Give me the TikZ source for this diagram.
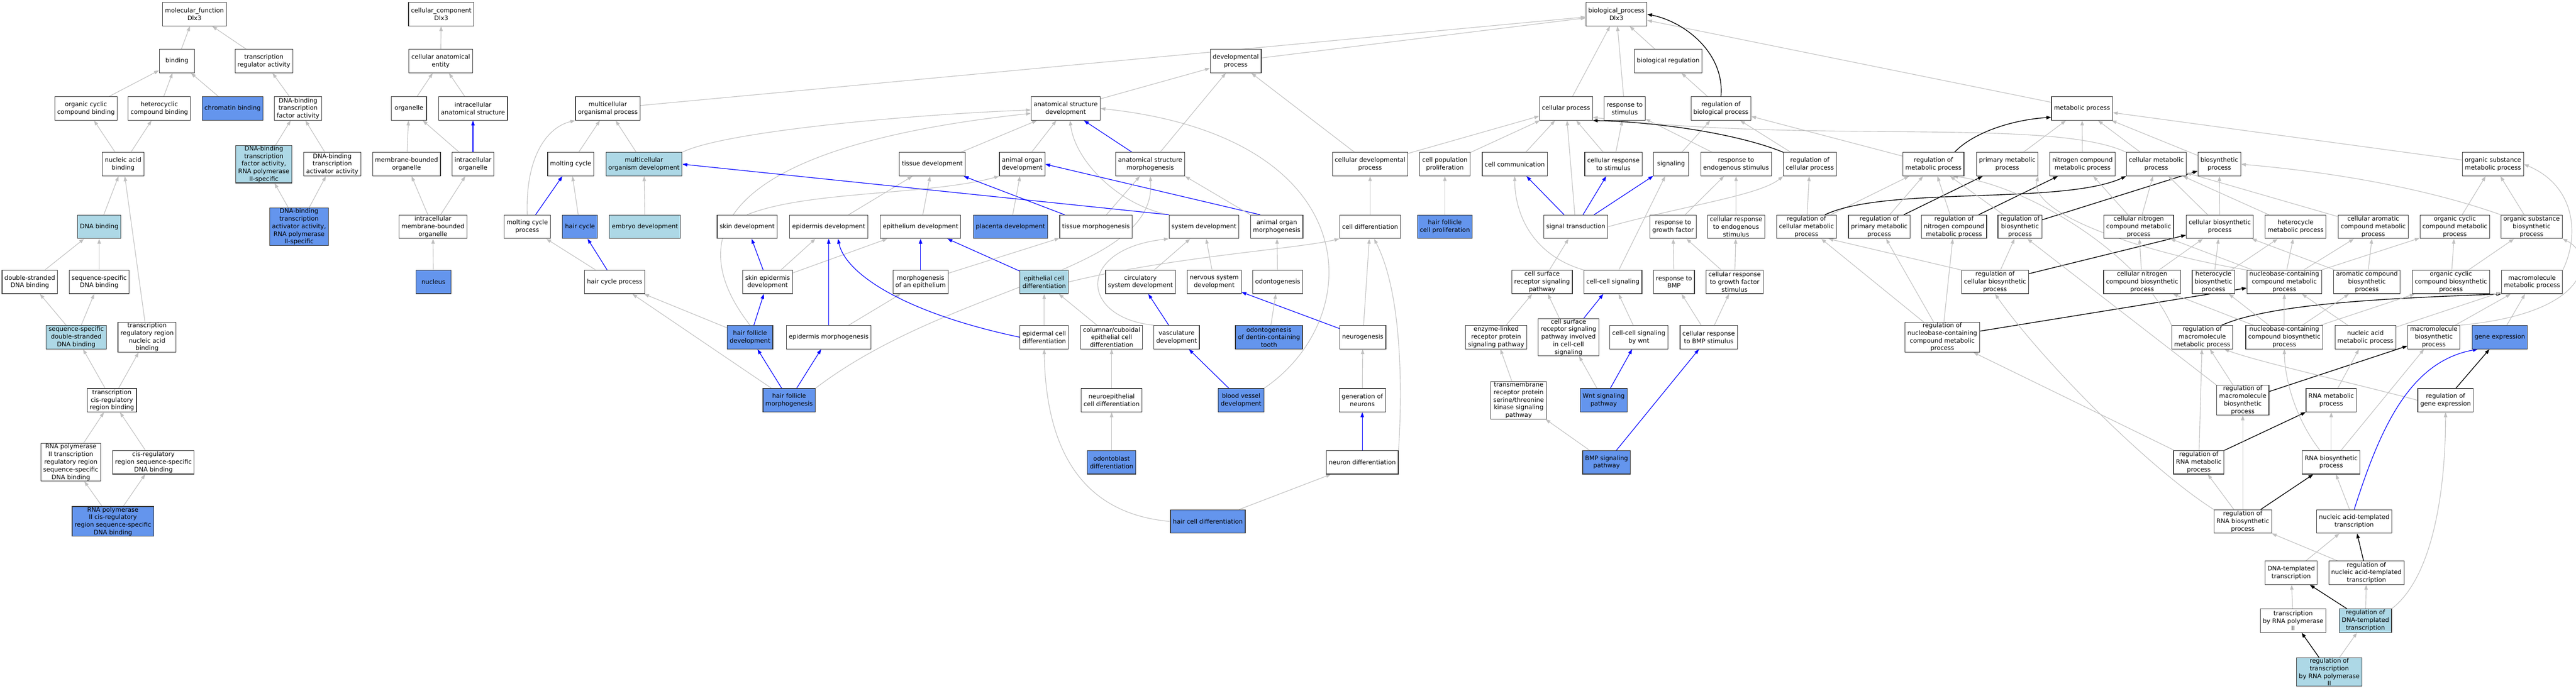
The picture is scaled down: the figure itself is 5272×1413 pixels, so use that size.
\documentclass[tikz,border=0pt]{standalone}
\usepackage{fontspec}
\setmainfont{DejaVu Sans}
\usetikzlibrary{arrows.meta,backgrounds}
\definecolor{lightblue}{HTML}{ADD8E6}
\definecolor{cornflower}{HTML}{6495ED}
\definecolor{edgegray}{HTML}{C0C0C0}
\definecolor{frame}{HTML}{383838}

\begin{document}
\begin{tikzpicture}[
	x=1pt, y=-1pt
	,>={Triangle[length=10pt,width=7pt]}
	,every node/.append style={rectangle, draw=frame, line width=1.2pt, fill=white, align=center, font=\fontsize{12.6}{15.6}\selectfont, minimum width=72pt, minimum height=48pt, inner xsep=5pt, inner ysep=1pt}
	,lb/.style={fill=lightblue}
	,cb/.style={fill=cornflower}
	,isa/.style={->, draw=edgegray, line width=1.2pt}
	,prt/.style={->, draw=blue, line width=1.3pt}
	,rgl/.style={->, draw=black, line width=1.5pt}
]
\useasboundingbox (0,0) rectangle (5272,1413);

\node (MF) at (398,29) {molecular\_function\\Dlx3};
\node (BIND) at (362,125) {binding};
\node (TRA) at (540,125) {transcription\\regulator activity};
\node (OCCB) at (176,222) {organic cyclic\\compound binding};
\node (HCB) at (326,222) {heterocyclic\\compound binding};
\node[cb] (CHB) at (476,222) {chromatin binding};
\node (DTF) at (610,222) {DNA-binding\\transcription\\factor activity};
\node (NAB) at (252,336) {nucleic acid\\binding};
\node[lb] (DTF2) at (540,336) {DNA-binding\\transcription\\factor activity,\\RNA polymerase\\II-specific};
\node (DTA) at (680,336) {DNA-binding\\transcription\\activator activity};
\node[lb] (DNAB) at (203,464) {DNA binding};
\node[cb] (DTA2) at (612,464) {DNA-binding\\transcription\\activator activity,\\RNA polymerase\\II-specific};
\node (DSB) at (61,577) {double-stranded\\DNA binding};
\node (SSB) at (203,577) {sequence-specific\\DNA binding};
\node[lb] (SSDS) at (156,690) {sequence-specific\\double-stranded\\DNA binding};
\node (TRR) at (301,690) {transcription\\regulatory region\\nucleic acid\\binding};
\node (TCR) at (229,819) {transcription\\cis-regulatory\\region binding};
\node (RPTR) at (145,946) {RNA polymerase\\II transcription\\regulatory region\\sequence-specific\\DNA binding};
\node (CRS) at (314,946) {cis-regulatory\\region sequence-specific\\DNA binding};
\node[cb] (RPCR) at (231,1067) {RNA polymerase\\II cis-regulatory\\region sequence-specific\\DNA binding};

\node (CC) at (903,29) {cellular\_component\\Dlx3};
\node (CAE) at (902,125) {cellular anatomical\\entity};
\node (ORG) at (837,222) {organelle};
\node (IAS) at (968,222) {intracellular\\anatomical structure};
\node (MBO) at (832,336) {membrane-bounded\\organelle};
\node (IO) at (968,336) {intracellular\\organelle};
\node (IMBO) at (886,464) {intracellular\\membrane-bounded\\organelle};
\node[cb] (NUC) at (887,577) {nucleus};

\node (BP) at (3308,29) {biological\_process\\Dlx3};
\node (DEV) at (2529,125) {developmental\\process};
\node (BREG) at (3414,125) {biological regulation};

\node (MOP) at (1244,222) {multicellular\\organismal process};
\node (ASD) at (2181,222) {anatomical structure\\development};
\node (CP) at (3205,222) {cellular process};
\node (RS) at (3325,222) {response to\\stimulus};
\node (RBP) at (3522,222) {regulation of\\biological process};
\node (MET) at (4261,222) {metabolic process};

\node (MC) at (1168,336) {molting cycle};
\node[lb] (MOD) at (1318,336) {multicellular\\organism development};
\node (TD) at (1908,336) {tissue development};
\node (AOD) at (2092,336) {animal organ\\development};
\node (ASM) at (2354,336) {anatomical structure\\morphogenesis};
\node (CDP) at (2804,336) {cellular developmental\\process};
\node (CPP) at (2957,336) {cell population\\proliferation};
\node (CCOM) at (3100,336) {cell communication};
\node (CRST) at (3302,336) {cellular response\\to stimulus};
\node (SIG) at (3420,336) {signaling};
\node (RES) at (3553,336) {response to\\endogenous stimulus};
\node (RCP) at (3704,336) {regulation of\\cellular process};
\node (RMP) at (3957,336) {regulation of\\metabolic process};
\node (PMP) at (4108,336) {primary metabolic\\process};
\node (NCMP) at (4262,336) {nitrogen compound\\metabolic process};
\node (CMP) at (4413,336) {cellular metabolic\\process};
\node (BSP) at (4542,336) {biosynthetic\\process};
\node (OSMP) at (5102,336) {organic substance\\metabolic process};

\node (MCPR) at (1079,464) {molting cycle\\process};
\node[cb] (HC) at (1187,464) {hair cycle};
\node[lb] (ED) at (1320,464) {embryo development};
\node (SD) at (1529,464) {skin development};
\node (EPD) at (1696,464) {epidermis development};
\node (ETHD) at (1884,464) {epithelium development};
\node[cb] (PD) at (2068,464) {placenta development};
\node (TM) at (2243,464) {tissue morphogenesis};
\node (SYSD) at (2464,464) {system development};
\node (AOM) at (2613,464) {animal organ\\morphogenesis};
\node (CD) at (2804,464) {cell differentiation};
\node[cb] (HFCP) at (2957,464) {hair follicle\\cell proliferation};
\node (ST) at (3225,464) {signal transduction};
\node (RGF) at (3424,464) {response to\\growth factor};
\node (CRES) at (3553,464) {cellular response\\to endogenous\\stimulus};
\node (RCMP) at (3697,464) {regulation of\\cellular metabolic\\process};
\node (RPMP) at (3846,464) {regulation of\\primary metabolic\\process};
\node (RNCMP) at (3999,464) {regulation of\\nitrogen compound\\metabolic process};
\node (RBSP) at (4134,464) {regulation of\\biosynthetic\\process};
\node (CNCMP) at (4377,464) {cellular nitrogen\\compound metabolic\\process};
\node (CBP) at (4543,464) {cellular biosynthetic\\process};
\node (HMP) at (4698,464) {heterocycle\\metabolic process};
\node (CAMP) at (4857,464) {cellular aromatic\\compound metabolic\\process};
\node (OCCMP) at (5024,464) {organic cyclic\\compound metabolic\\process};
\node (OSBP) at (5181,464) {organic substance\\biosynthetic\\process};

\node (HCP) at (1258,577) {hair cycle process};
\node (SED) at (1571,577) {skin epidermis\\development};
\node (MOE) at (1884,577) {morphogenesis\\of an epithelium};
\node[lb] (ECD) at (2137,577) {epithelial cell\\differentiation};
\node (CSD) at (2334,577) {circulatory\\system development};
\node (NSD) at (2485,577) {nervous system\\development};
\node (ODG) at (2615,577) {odontogenesis};
\node (CSRS) at (3156,577) {cell surface\\receptor signaling\\pathway};
\node (CCS) at (3301,577) {cell-cell signaling};
\node (RBMP) at (3426,577) {response to\\BMP};
\node (CRGF) at (3550,577) {cellular response\\to growth factor\\stimulus};
\node (RCBP) at (4083,577) {regulation of\\cellular biosynthetic\\process};
\node (CNCBP) at (4384,577) {cellular nitrogen\\compound biosynthetic\\process};
\node (HBP) at (4530,577) {heterocycle\\biosynthetic\\process};
\node (NBMP) at (4675,577) {nucleobase-containing\\compound metabolic\\process};
\node (ACBP) at (4844,577) {aromatic compound\\biosynthetic\\process};
\node (OCCBP) at (5016,577) {organic cyclic\\compound biosynthetic\\process};
\node (MMP) at (5182,577) {macromolecule\\metabolic process};

\node[cb] (HFD) at (1535,690) {hair follicle\\development};
\node (EPM) at (1696,690) {epidermis morphogenesis};
\node (EPCD) at (2137,690) {epidermal cell\\differentiation};
\node (CCD) at (2275,690) {columnar/cuboidal\\epithelial cell\\differentiation};
\node (VD) at (2408,690) {vasculature\\development};
\node[cb] (ODT) at (2597,690) {odontogenesis\\of dentin-containing\\tooth};
\node (NG) at (2789,690) {neurogenesis};
\node (ELR) at (3062,690) {enzyme-linked\\receptor protein\\signaling pathway};
\node (CSRC) at (3210,690) {cell surface\\receptor signaling\\pathway involved\\in cell-cell\\signaling};
\node (CCW) at (3354,690) {cell-cell signaling\\by wnt};
\node (CRBMP) at (3497,690) {cellular response\\to BMP stimulus};
\node (RNBMP) at (3975,690) {regulation of\\nucleobase-containing\\compound metabolic\\process};
\node (RMMP) at (4507,690) {regulation of\\macromolecule\\metabolic process};
\node (NBBP) at (4675,690) {nucleobase-containing\\compound biosynthetic\\process};
\node (NAMP) at (4841,690) {nucleic acid\\metabolic process};
\node (MBP) at (4981,690) {macromolecule\\biosynthetic\\process};
\node[cb] (GE) at (5116,690) {gene expression};

\node[cb] (HFM) at (1615,819) {hair follicle\\morphogenesis};
\node (NEC) at (2275,819) {neuroepithelial\\cell differentiation};
\node[cb] (BVD) at (2540,819) {blood vessel\\development};
\node (GON) at (2788,819) {generation of\\neurons};
\node (TMR) at (3108,819) {transmembrane\\receptor protein\\serine/threonine\\kinase signaling\\pathway};
\node[cb] (WNT) at (3282,819) {Wnt signaling\\pathway};
\node (RMBP) at (4590,819) {regulation of\\macromolecule\\biosynthetic\\process};
\node (RNAMP) at (4771,819) {RNA metabolic\\process};
\node (RGE) at (5005,819) {regulation of\\gene expression};

\node[cb] (ODB) at (2275,946) {odontoblast\\differentiation};
\node (ND) at (2788,946) {neuron differentiation};
\node[cb] (BMP) at (3288,946) {BMP signaling\\pathway};
\node (RRMP) at (4500,946) {regulation of\\RNA metabolic\\process};
\node (RNABP) at (4771,946) {RNA biosynthetic\\process};

\node[cb] (HCD) at (2472,1067) {hair cell differentiation};
\node (RRBP) at (4590,1067) {regulation of\\RNA biosynthetic\\process};
\node (NATT) at (4818,1067) {nucleic acid-templated\\transcription};

\node (DTT) at (4689,1172) {DNA-templated\\transcription};
\node (RNATT) at (4843,1172) {regulation of\\nucleic acid-templated\\transcription};

\node (TRP) at (4693,1270) {transcription\\by RNA polymerase\\II};
\node[lb] (RDTT) at (4841,1270) {regulation of\\DNA-templated\\transcription};

\node[lb] (RTRP) at (4767,1375) {regulation of\\transcription\\by RNA polymerase\\II};

\begin{scope}[on background layer]
\fill[white] (0,0) rectangle (5272,1413);

\draw[isa] (BIND) -- (MF); \draw[isa] (TRA) -- (MF);
\draw[isa] (OCCB) -- (BIND); \draw[isa] (HCB) -- (BIND); \draw[isa] (CHB) -- (BIND);
\draw[isa] (DTF) -- (TRA);
\draw[isa] (NAB) -- (OCCB); \draw[isa] (NAB) -- (HCB);
\draw[isa] (DTF2) -- (DTF); \draw[isa] (DTA) -- (DTF);
\draw[isa] (DNAB) -- (NAB); \draw[isa] (TRR) -- (NAB);
\draw[isa] (DTA2) -- (DTF2); \draw[isa] (DTA2) -- (DTA);
\draw[isa] (DSB) -- (DNAB); \draw[isa] (SSB) -- (DNAB);
\draw[isa] (SSDS) -- (DSB); \draw[isa] (SSDS) -- (SSB);
\draw[isa] (TCR) -- (SSDS); \draw[isa] (TCR) -- (TRR);
\draw[isa] (RPTR) -- (TCR); \draw[isa] (CRS) -- (TCR);
\draw[isa] (RPCR) -- (RPTR); \draw[isa] (RPCR) -- (CRS);

\draw[isa] (CAE) -- (CC);
\draw[isa] (ORG) -- (CAE); \draw[isa] (IAS) -- (CAE);
\draw[isa] (MBO) -- (ORG); \draw[isa] (IO) -- (ORG);
\draw[prt] (IO) -- (IAS);
\draw[isa] (IMBO) -- (MBO); \draw[isa] (IMBO) -- (IO);
\draw[isa] (NUC) -- (IMBO);

\draw[isa] (DEV) -- (BP); \draw[isa] (MOP) -- (BP); \draw[isa] (BREG) -- (BP);
\draw[isa] (CP) -- (BP); \draw[isa] (RS) -- (BP); \draw[isa] (MET) -- (BP);
\draw[rgl] (RBP.north) .. controls (3530,110) and (3450,45) .. (BP.east);
\draw[isa] (RBP) -- (BREG);

\draw[isa] (MC) -- (MOP); \draw[isa] (MOD) -- (MOP);
\draw[isa] (MCPR.north) .. controls (1075,320) and (1120,260) .. (MOP.south west);
\draw[isa] (MOD.north east) .. controls (1480,270) and (1850,235) .. ([yshift=-3pt]ASD.west);
\draw[prt] (MCPR) -- (MC); \draw[isa] (HC) -- (MC);
\draw[isa] (ED) -- (MOD);
\draw[isa] (HCP) -- (MCPR); \draw[prt] (HCP) -- (HC);
\draw[isa] (HFD) -- (HCP); \draw[prt] (HFD) -- (SED);
\draw[isa] (HFD.north) .. controls (1390,480) and (1480,300) .. ([yshift=-10pt]ASD.west);
\draw[isa] (HFM) -- (HCP); \draw[prt] (HFM) -- (HFD); \draw[prt] (HFM) -- (EPM);
\draw[isa] (HFM.north east) .. controls (1950,580) and (2370,560) .. (ASM.south);
\draw[prt] (SED) -- (SD); \draw[isa] (SED) -- (EPD); \draw[isa] (SED) -- (ETHD);
\draw[prt] (EPM) -- (EPD); \draw[isa] (EPM) -- (MOE);
\draw[prt] (EPCD.west) .. controls (1850,640) and (1730,560) .. ([xshift=19pt]EPD.south);
\draw[isa] (SD.north) .. controls (1650,390) and (1900,400) .. (AOD.south west);
\draw[isa] (EPD) -- (TD);

\draw[isa] (ASD) -- (DEV); \draw[isa] (ASM) -- (DEV); \draw[isa] (CDP) -- (DEV);
\draw[isa] (TD) -- (ASD); \draw[isa] (AOD) -- (ASD); \draw[prt] (ASM) -- (ASD);
\draw[isa] (SYSD.north west) .. controls (2290,420) and (2200,330) .. ([xshift=9pt]ASD.south);
\draw[isa] (BVD.north east) .. controls (2800,650) and (2800,280) .. (ASD.east);
\draw[isa] (ETHD) -- (TD); \draw[prt] (TM) -- (TD);
\draw[isa] (PD) -- (AOD); \draw[prt] ([xshift=20pt]AOM.north west) -- (AOD.east);
\draw[isa] (TM) -- (ASM); \draw[isa] (AOM.north west) -- (ASM.south east);
\draw[prt] (SYSD.north west) -- (MOD.east);
\draw[prt] (MOE) -- (ETHD); \draw[prt] (ECD) -- (ETHD); \draw[isa] (MOE) -- (TM);
\draw[isa] (CSD) -- (SYSD); \draw[isa] (NSD) -- (SYSD);
\draw[isa] (VD.north west) .. controls (2210,650) and (2200,510) .. (SYSD.south west);
\draw[isa] (ODG) -- (AOM);
\draw[isa] (EPCD) -- (ECD); \draw[isa] (CCD) -- (ECD);
\draw[isa] (ECD.east) .. controls (2400,525) and (2650,510) .. (CD.south west);
\draw[prt] (VD) -- (CSD); \draw[prt] (NG) -- (NSD); \draw[isa] (ODT) -- (ODG);
\draw[isa] (HCD.west) .. controls (2200,1050) and (2140,900) .. (EPCD.south);
\draw[isa] (HCD) -- (ND);
\draw[isa] (NEC) -- (CCD); \draw[isa] (ODB) -- (NEC); \draw[prt] (BVD) -- (VD);

\draw[isa] (CDP) -- (CP); \draw[isa] (CPP) -- (CP); \draw[isa] (CCOM) -- (CP);
\draw[isa] (ST) -- (CP); \draw[isa] (CRST) -- (CP); \draw[isa] (CRST) -- (RS);
\draw[isa] (RES) -- (RS); \draw[isa] (SIG) -- (RBP); \draw[isa] (RCP) -- (RBP);
\draw[rgl] (RCP.north west) .. controls (3560,275) and (3400,250) .. (CP.south east);
\draw[isa] (CMP.north west) .. controls (4200,240) and (3700,295) .. ([yshift=-18pt]CP.east);
\draw[isa] (CD) -- (CDP); \draw[isa] (HFCP) -- (CPP);
\draw[prt] (ST) -- (CCOM); \draw[prt] (ST) -- (CRST); \draw[prt] (ST) -- (SIG);
\draw[isa] (ST.east) .. controls (3450,420) and (3600,400) .. (RCP.south west);
\draw[isa] (RGF) -- (RES); \draw[isa] (CRES) -- (RES);
\draw[isa] (NG) -- (CD);
\draw[isa] (ND.north east) .. controls (2870,800) and (2870,600) .. ([xshift=8pt]CD.south);
\draw[isa] (GON) -- (NG); \draw[prt] (ND) -- (GON);
\draw[isa] (CSRS) -- (ST); \draw[isa] (CCS) -- (SIG);
\draw[isa] (CCS.north west) .. controls (3130,520) and (3100,430) .. (CCOM.south);
\draw[isa] (RBMP) -- (RGF); \draw[isa] (CRGF) -- (RGF); \draw[isa] (CRGF) -- (CRES);
\draw[isa] (ELR) -- (CSRS); \draw[isa] (CSRC) -- (CSRS); \draw[prt] (CSRC) -- (CCS);
\draw[isa] (CCW) -- (CCS); \draw[isa] (CRBMP) -- (RBMP); \draw[isa] (CRBMP) -- (CRGF);
\draw[isa] (TMR) -- (ELR); \draw[isa] (WNT) -- (CSRC); \draw[prt] (WNT) -- (CCW);
\draw[isa] (BMP) -- (TMR); \draw[prt] (BMP) -- (CRBMP);

\draw[isa] (RMP) -- (RBP);
\draw[rgl] ([xshift=43pt]RMP.north) .. controls (4040,270) and (4120,245) .. ([yshift=-18pt]MET.west);
\draw[isa] (PMP) -- (MET); \draw[isa] (NCMP) -- (MET); \draw[isa] (CMP) -- (MET);
\draw[isa] (BSP) -- (MET); \draw[isa] (OSMP) -- (MET);
\draw[isa] (RCMP) -- (RCP); \draw[isa] (RCMP) -- (RMP);
\draw[rgl] ([xshift=38pt]RCMP.north) .. controls (3860,380) and (4220,420) .. (CMP.south west);
\draw[isa] (RPMP) -- (RMP); \draw[rgl] (RPMP) -- (PMP);
\draw[isa] (RNCMP) -- (RMP); \draw[rgl] (RNCMP) -- (NCMP);
\draw[isa] (RBSP) -- (RMP); \draw[rgl] (RBSP) -- (BSP);
\draw[isa] (CNCMP) -- (NCMP); \draw[isa] (CNCMP) -- (CMP);
\draw[isa] (CBP) -- (CMP); \draw[isa] (CBP) -- (BSP);
\draw[isa] (HMP) -- (CMP); \draw[isa] (CAMP) -- (CMP);
\draw[isa] (OSBP.north west) .. controls (4950,380) and (4750,350) .. (BSP.east);
\draw[isa] (OSBP) -- (OSMP); \draw[isa] (OCCMP) -- (OSMP);
\draw[isa] (MMP.north east) .. controls (5280,480) and (5270,380) .. (OSMP.east);
\draw[isa] (RCBP.north west) -- ([xshift=45pt]RCMP.south); \draw[isa] (RCBP) -- (RBSP);
\draw[rgl] (RCBP) -- (CBP);
\draw[isa] (CNCBP) -- (CNCMP); \draw[isa] (CNCBP) -- (CBP);
\draw[isa] (HBP) -- (CBP); \draw[isa] (HBP) -- (HMP);
\draw[isa] (NBMP) -- (CNCMP); \draw[isa] (NBMP) -- (HMP);
\draw[isa] (NBMP) -- (CAMP); \draw[isa] (NBMP) -- (OCCMP);
\draw[isa] (NBMP.north west) .. controls (4400,520) and (4150,440) .. (PMP.south east);
\draw[isa] (ACBP) -- (CBP); \draw[isa] (ACBP) -- (CAMP);
\draw[isa] (OCCBP) -- (OCCMP); \draw[isa] (OCCBP) -- (OSBP);
\draw[isa] (RNBMP) -- (RCMP); \draw[isa] (RNBMP) -- (RPMP); \draw[isa] (RNBMP) -- (RNCMP);
\draw[rgl] (RNBMP) -- (NBMP);
\draw[isa] (RMMP.north west) .. controls (4380,520) and (4150,380) .. ([xshift=40pt]RMP.south);
\draw[rgl] ([xshift=40pt]RMMP.north) .. controls (4650,620) and (4900,610) .. (MMP.south west);
\draw[isa] (NBBP) -- (NBMP); \draw[isa] (NBBP) -- (HBP); \draw[isa] (NBBP) -- (ACBP);
\draw[isa] (NBBP) -- (OCCBP); \draw[isa] (NBBP) -- (CNCBP);
\draw[isa] (NAMP) -- (NBMP); \draw[isa] (NAMP) -- (MMP);
\draw[isa] (MBP) -- (MMP);
\draw[isa] (MBP.north east) .. controls (5310,640) and (5310,520) .. (OSBP.south east);
\draw[isa] (GE) -- (MMP);
\draw[isa] (RMBP) -- (RMMP); \draw[rgl] (RMBP) -- (MBP);
\draw[isa] (RMBP.north west) -- ([xshift=15pt]RBSP.south);
\draw[isa] (RNAMP) -- (NAMP);
\draw[isa] (RGE.west) .. controls (4800,780) and (4620,740) .. ([xshift=45pt]RMMP.south);
\draw[rgl] (RGE) -- (GE);
\draw[isa] (RRMP) -- (RMMP); \draw[rgl] (RRMP) -- (RNAMP); \draw[isa] (RRMP) -- (RNBMP);
\draw[isa] ([xshift=-23pt]RNABP.north) .. controls (4700,860) and (4676,780) .. (NBBP.south);
\draw[isa] (RNABP) -- (RNAMP); \draw[isa] (RNABP) -- (MBP);
\draw[isa] (RRBP) -- (RRMP); \draw[isa] (RRBP) -- (RMBP); \draw[rgl] (RRBP) -- (RNABP);
\draw[isa] (RRBP.north west) .. controls (4400,960) and (4180,740) .. (RCBP.south);
\draw[isa] (NATT) -- (RNABP);
\draw[prt] (NATT.north) .. controls (4870,880) and (4930,740) .. ([xshift=-45pt]GE.south);
\draw[isa] (DTT) -- (NATT);
\draw[isa] (RNATT) -- (RRBP); \draw[rgl] (RNATT) -- (NATT);
\draw[isa] (TRP) -- (DTT);
\draw[isa] (RDTT) -- (RNATT); \draw[rgl] (RDTT) -- (DTT);
\draw[isa] (RDTT.north east) .. controls (4980,1180) and (5005,1000) .. (RGE.south);
\draw[rgl] (RTRP) -- (TRP); \draw[isa] (RTRP) -- (RDTT);
\end{scope}
\end{tikzpicture}
\end{document}
